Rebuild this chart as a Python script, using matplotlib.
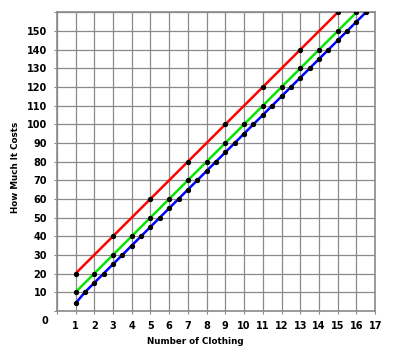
import matplotlib
matplotlib.use('Agg')
import matplotlib.pyplot as plt

# data
red_x = [1, 3, 5, 7, 9, 11, 13, 15]
red_y = [20, 40, 60, 80, 100, 120, 140, 160]

green_x = [1, 2, 3, 4, 5, 6, 7, 8, 9, 10, 11, 12, 13, 14, 15, 16]
green_y = [10, 20, 30, 40, 50, 60, 70, 80, 90, 100, 110, 120, 130, 140, 150, 160]

blue_x = [1, 1.5, 2, 2.5, 3, 3.5, 4, 4.5, 5, 5.5, 6, 6.5, 7, 7.5, 8, 8.5,
          9, 9.5, 10, 10.5, 11, 11.5, 12, 12.5, 13, 13.5, 14, 14.5, 15, 15.5, 16, 16.5]
blue_y = [4, 10, 15, 20, 25, 30, 35, 40, 45, 50, 55, 60, 65, 70, 75, 80,
          85, 90, 95, 100, 105, 110, 115, 120, 125, 130, 135, 140, 145, 150, 155, 160]

x_ticks = list(range(1, 18))
y_ticks = list(range(10, 160, 10))

fig = plt.figure(figsize=(4, 3.64), dpi=100)
ax = fig.add_axes([0.142, 0.146, 0.796, 0.82])

for x, y, c in [(red_x, red_y, '#ff0000'), (green_x, green_y, '#00e600'), (blue_x, blue_y, '#0000ff')]:
    ax.plot(x, y, color=c, lw=1.8, zorder=3)
    ax.plot(x, y, 'o', color='black', ms=2.8, zorder=4)

ax.set_xlim(0, 17)
ax.set_ylim(0, 160)
ax.set_xticks(range(0, 18))
ax.set_yticks(range(0, 170, 10))
ax.set_xticklabels([''] + [str(v) for v in x_ticks])
ax.set_yticklabels([''] + [str(v) for v in y_ticks] + [''])
ax.grid(True, color='#8a8a8a', lw=0.9)
ax.set_axisbelow(True)
for s in ax.spines.values():
    s.set_color('#8a8a8a')
    s.set_linewidth(1.2)
ax.tick_params(length=2, color='#8a8a8a', labelsize=7, pad=5)
for lab in ax.get_xticklabels() + ax.get_yticklabels():
    lab.set_fontweight('bold')

ax.annotate('0', xy=(0, 0), xytext=(-12, -10), textcoords='offset pixels',
            ha='center', va='center', fontsize=7, fontweight='bold')

ax.set_xlabel('Number of Clothing', fontsize=6.3, fontweight='bold')
ax.set_ylabel('How Much It Costs', fontsize=6.3, fontweight='bold')
ax.xaxis.set_label_coords(0.434, -0.104)
ax.yaxis.set_label_coords(-0.131, 0.482)
ax.xaxis.label.set_va('center')
ax.yaxis.label.set_va('center')

fig.savefig('out.png', dpi=100)
